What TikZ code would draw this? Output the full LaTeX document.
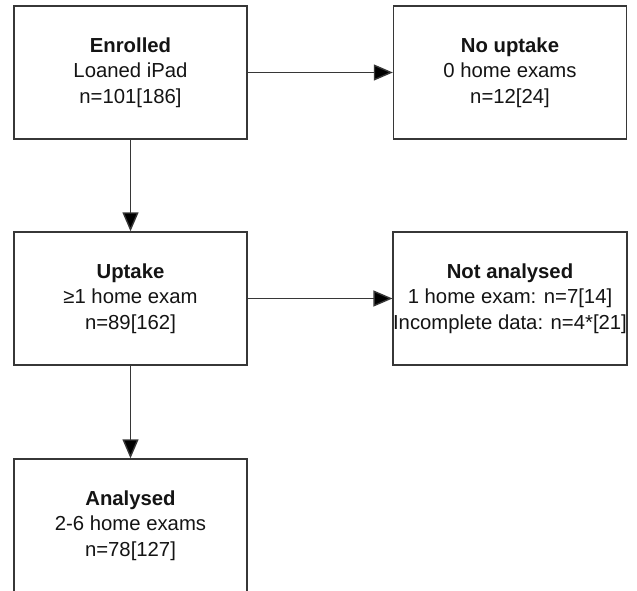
\documentclass[tikz,border=0pt]{standalone}
\usepackage{fontspec}
\setmainfont{Liberation Sans}
\usetikzlibrary{arrows.meta}
\definecolor{edgegray}{RGB}{55,55,55}
\definecolor{textdark}{RGB}{20,20,20}

\begin{document}
\begin{tikzpicture}[
  x=1pt, y=1pt,
  flowbox/.style={draw=edgegray, line width=1.4pt, rectangle,
    minimum width=233pt, minimum height=133pt, inner sep=0pt,
    align=center, text=textdark, fill=white,
    font=\fontsize{20.3}{25.5}\selectfont},
  lnk/.style={-{Triangle[length=19pt,width=16pt,fill=black]}, draw=edgegray,
    line width=1.4pt},
]
\clip (0,0) rectangle (637,-591);
% left column
\node[flowbox] (enrolled) at (130.5,-72.5) {\textbf{Enrolled}\\Loaned iPad\\n=101[186]};
\node[flowbox] (uptake) at (130.5,-298.5) {\textbf{Uptake}\\≥1 home exam\\n=89[162]};
\node[flowbox] (analysed) at (130.5,-525.5) {\textbf{Analysed}\\2-6 home exams\\n=78[127]};
% right column
\node[flowbox] (nouptake) at (510,-72.5) {\textbf{No uptake}\\0 home exams\\n=12[24]};
\node[flowbox] (notanalysed) at (510,-298.5) {\textbf{Not analysed}\\1 home exam: n=7[14]\\Incomplete data: n=4*[21]};
\draw[lnk] (enrolled) -- (nouptake);
\draw[lnk] (enrolled) -- (uptake);
\draw[lnk] (uptake) -- (notanalysed);
\draw[lnk] (uptake) -- (analysed);
\end{tikzpicture}
\end{document}
